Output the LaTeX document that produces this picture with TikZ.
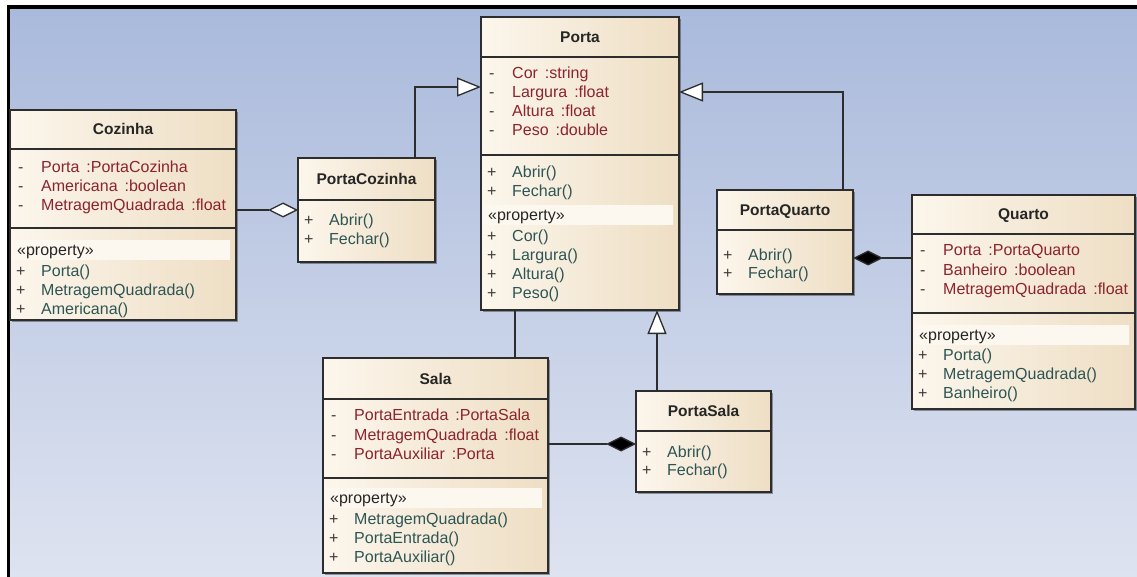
\documentclass[tikz,border=0pt]{standalone}
\usepackage{fontspec}
\setmainfont{Liberation Sans}
\usetikzlibrary{calc,arrows.meta,shadows}

\definecolor{bgtop}{RGB}{170,186,220}
\definecolor{bgbot}{RGB}{222,227,240}
\definecolor{boxL}{RGB}{252,246,236}
\definecolor{boxR}{RGB}{238,222,196}
\definecolor{edge}{RGB}{45,45,45}
\definecolor{attrc}{RGB}{140,35,45}
\definecolor{opc}{RGB}{45,85,85}
\definecolor{markc}{RGB}{60,60,60}
\definecolor{bandc}{RGB}{253,248,239}

\tikzset{
  classbox/.style={draw=edge, line width=1.3pt, left color=boxL, right color=boxR,
    inner sep=0pt, outer sep=0pt, anchor=north west,
    drop shadow={shadow xshift=2pt, shadow yshift=-2pt, opacity=0.35, fill=black}},
  rowtext/.style={font=\fontsize{16}{18}\selectfont, inner sep=0pt,
    text height=11.5pt, text depth=0pt, anchor=west},
  umlmark/.style={rowtext, text=markc},
  attrtext/.style={rowtext, text=attrc},
  optext/.style={rowtext, text=opc},
  stereo/.style={rowtext, text=black!85},
  ctitle/.style={font=\fontsize{15.5}{18}\selectfont\bfseries, text=black!85,
    inner sep=0pt, text height=11pt, text depth=0pt},
  compline/.style={draw=edge, line width=1.3pt},
  assoc/.style={draw=edge, line width=1.3pt},
  gen/.style={assoc, -{Triangle[length=24pt, width=19pt, fill=white]}},
  comp/.style={assoc, -{Diamond[length=30pt, width=15pt, fill=black]}},
  agg/.style={assoc, -{Diamond[length=30pt, width=15pt, fill=white]}},
}

% gap between an attribute name and its type
\newcommand\ty[1]{\hspace{2.5pt} :#1}
% class title centred in the header band
\newcommand\umltitle[3]{\node[ctitle] (#1-t) at ($(#1.north)+(0,#2)$) {#3};}
% horizontal compartment line
\newcommand\umlsep[2]{\draw[compline] ($(#1.north west)+(0,#2)$) -- ($(#1.north east)+(0,#2)$);}
% private attribute row
\newcommand\umlattr[4]{%
  \node[umlmark] (#1-am#2) at ($(#1.north west)+(8,#3)$) {-};
  \node[attrtext] (#1-a#2) at ($(#1.north west)+(31,#3)$) {#4};}
% public operation row
\newcommand\umlop[4]{%
  \node[umlmark] (#1-om#2) at ($(#1.north west)+(6,#3)$) {+};
  \node[optext] (#1-o#2) at ($(#1.north west)+(31,#3)$) {#4};}
% stereotype band
\newcommand\umlprop[3]{%
  \fill[bandc] ($(#1.north west)+(2,#2)$) rectangle ($(#1.north east)+(-6,#3)$);
  \node[stereo] (#1-st) at ($(#1.north west)+(7,{(#2+#3)/2})$) {«property»};}

\begin{document}
\begin{tikzpicture}[x=1pt, y=-1pt]
\useasboundingbox (0,0) rectangle (1137,577);
\fill[white] (0,0) rectangle (1137,577);
\shade[top color=bgtop, bottom color=bgbot] (10,9) rectangle (1137,577);
\fill[black] (7,5) rectangle (1137,9);
\fill[black] (7,5) rectangle (10,577);

% ---------- Cozinha ----------
\node[classbox, minimum width=226pt, minimum height=210pt] (coz) at (10,110) {};
\umltitle{coz}{19.5}{Cozinha}
\umlsep{coz}{39}
\umlsep{coz}{118}
\umlattr{coz}{1}{57}{Porta\ty{PortaCozinha}}
\umlattr{coz}{2}{76}{Americana\ty{boolean}}
\umlattr{coz}{3}{95}{MetragemQuadrada\ty{float}}
\umlprop{coz}{130}{150}
\umlop{coz}{1}{161}{Porta()}
\umlop{coz}{2}{180}{MetragemQuadrada()}
\umlop{coz}{3}{199}{Americana()}

% ---------- PortaCozinha ----------
\node[classbox, minimum width=137pt, minimum height=104pt] (pcoz) at (298,158) {};
\umltitle{pcoz}{21}{PortaCozinha}
\umlsep{pcoz}{42}
\umlop{pcoz}{1}{62}{Abrir()}
\umlop{pcoz}{2}{81}{Fechar()}

% ---------- Porta ----------
\node[classbox, minimum width=198pt, minimum height=293pt] (porta) at (481,17) {};
\umltitle{porta}{20}{Porta}
\umlsep{porta}{40}
\umlsep{porta}{138}
\umlattr{porta}{1}{56}{Cor\ty{string}}
\umlattr{porta}{2}{75}{Largura\ty{float}}
\umlattr{porta}{3}{94}{Altura\ty{float}}
\umlattr{porta}{4}{113}{Peso\ty{double}}
\umlop{porta}{1}{155}{Abrir()}
\umlop{porta}{2}{174}{Fechar()}
\umlprop{porta}{188}{208}
\umlop{porta}{3}{219}{Cor()}
\umlop{porta}{4}{238}{Largura()}
\umlop{porta}{5}{257}{Altura()}
\umlop{porta}{6}{276}{Peso()}

% ---------- PortaQuarto ----------
\node[classbox, minimum width=136pt, minimum height=104pt] (pqua) at (717,190) {};
\umltitle{pqua}{20}{PortaQuarto}
\umlsep{pqua}{40}
\umlop{pqua}{1}{65}{Abrir()}
\umlop{pqua}{2}{83}{Fechar()}

% ---------- Quarto ----------
\node[classbox, minimum width=223pt, minimum height=214pt] (quarto) at (912,195) {};
\umltitle{quarto}{19.5}{Quarto}
\umlsep{quarto}{39}
\umlsep{quarto}{118}
\umlattr{quarto}{1}{55}{Porta\ty{PortaQuarto}}
\umlattr{quarto}{2}{75}{Banheiro\ty{boolean}}
\umlattr{quarto}{3}{94}{MetragemQuadrada\ty{float}}
\umlprop{quarto}{130}{150}
\umlop{quarto}{1}{160}{Porta()}
\umlop{quarto}{2}{179}{MetragemQuadrada()}
\umlop{quarto}{3}{198}{Banheiro()}

% ---------- Sala ----------
\node[classbox, minimum width=225pt, minimum height=215pt] (sala) at (323,358) {};
\umltitle{sala}{20.5}{Sala}
\umlsep{sala}{41}
\umlsep{sala}{120}
\umlattr{sala}{1}{57}{PortaEntrada\ty{PortaSala}}
\umlattr{sala}{2}{77}{MetragemQuadrada\ty{float}}
\umlattr{sala}{3}{96}{PortaAuxiliar\ty{Porta}}
\umlprop{sala}{130}{150}
\umlop{sala}{1}{161}{MetragemQuadrada()}
\umlop{sala}{2}{180}{PortaEntrada()}
\umlop{sala}{3}{199}{PortaAuxiliar()}

% ---------- PortaSala ----------
\node[classbox, minimum width=135pt, minimum height=101pt] (psala) at (636,391) {};
\umltitle{psala}{20}{PortaSala}
\umlsep{psala}{40}
\umlop{psala}{1}{61}{Abrir()}
\umlop{psala}{2}{79}{Fechar()}

% ---------- connectors ----------
\coordinate (pcoz-up) at ($(pcoz.north west)+(117,0)$);
\coordinate (porta-in1) at ($(porta.north west)+(0,70)$);
\draw[gen] (pcoz-up) |- (porta-in1);

\coordinate (pqua-up) at ($(pqua.north west)+(126,0)$);
\coordinate (porta-in2) at ($(porta.north east)+(0,75)$);
\draw[gen] (pqua-up) |- (porta-in2);

\coordinate (psala-up) at ($(psala.north west)+(21,0)$);
\draw[gen] (psala-up) -- (psala-up |- porta.south);

\coordinate (sala-up) at ($(sala.north west)+(192,0)$);
\draw[assoc] (sala-up) -- (sala-up |- porta.south);

\coordinate (sala-out) at ($(sala.north east)+(0,86)$);
\draw[comp] (sala-out) -- (sala-out -| psala.west);

\coordinate (quarto-out) at ($(quarto.north west)+(0,63)$);
\draw[comp] (quarto-out) -- (quarto-out -| pqua.east);

\coordinate (coz-out) at ($(coz.north east)+(0,100)$);
\draw[agg] (coz-out) -- (coz-out -| pcoz.west);
\end{tikzpicture}
\end{document}
